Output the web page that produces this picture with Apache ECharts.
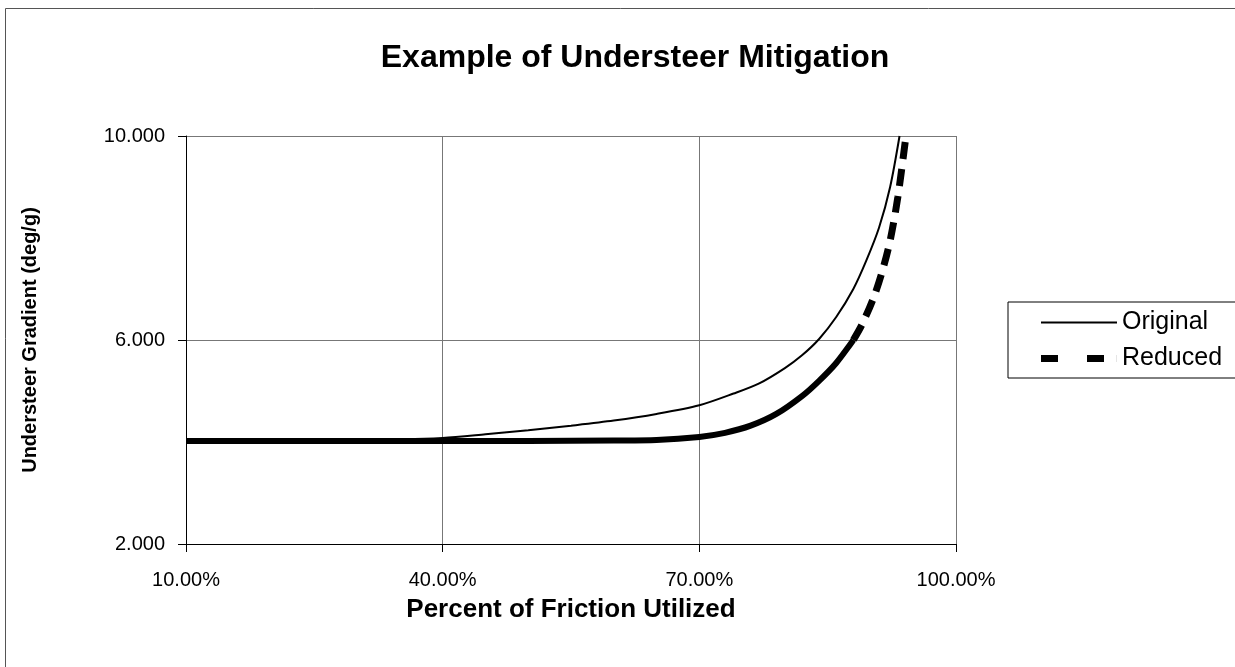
<!DOCTYPE html>
<html>
<head>
<meta charset="utf-8">
<script src="https://cdn.jsdelivr.net/npm/echarts@6/dist/echarts.min.js"></script>
<style>
html, body { margin: 0; padding: 0; background: #fff; }
#chart { width: 1235px; height: 667px; }
</style>
</head>
<body>
<div id="chart"></div>
<script>
// values
var origX = [10, 20, 30, 40, 45, 50, 55, 60, 65, 70, 74, 77, 80, 82, 84, 86, 88, 89.5, 91, 92.3, 93.4];
var origY = [4.02, 4.02, 4.03, 4.08, 4.15, 4.23, 4.32, 4.42, 4.55, 4.72, 4.95, 5.15, 5.45, 5.7, 6.02, 6.45, 7.0, 7.55, 8.2, 9.0, 10.0];

// reduced: solid low part, dashed steep part
var redLowX = [10, 20, 30, 40, 50, 60, 65, 70, 73, 76, 79, 82, 84, 86, 88];
var redLowY = [4.02, 4.02, 4.02, 4.02, 4.02, 4.03, 4.04, 4.1, 4.18, 4.32, 4.55, 4.9, 5.2, 5.55, 6.0];
var redHighX = [88, 89, 90.3, 91.3, 92.3, 93.2, 94.15];
var redHighY = [6.0, 6.3, 6.8, 7.3, 7.95, 8.8, 10.0];

function pairs(xs, ys) {
    return xs.map(function (x, i) { return [x, ys[i]]; });
}

var chart = echarts.init(document.getElementById("chart"));
var font = "Liberation Sans, Arial, sans-serif";

var option = {
    backgroundColor: "#fff",
    animation: false,
    title: {
        text: "Example of Understeer Mitigation",
        left: 630,
        top: 37,
        textAlign: "center",
        textStyle: { fontFamily: font, fontSize: 32, fontWeight: "bold", color: "#000" }
    },
    graphic: [{
        type: "rect",
        shape: { x: 5.5, y: 8.5, width: 1240, height: 670 },
        style: { fill: "none", stroke: "#555", lineWidth: 1 }
    }],
    legend: {
        orient: "vertical",
        left: 1008,
        top: 302,
        padding: [8, 40, 7, 33],
        itemGap: 11,
        itemWidth: 76,
        itemHeight: 14,
        borderColor: "#000",
        borderWidth: 1,
        textStyle: { fontFamily: font, fontSize: 25, color: "#000" },
        data: [
            { name: "Original", icon: "path://M0,0H76V2H0Z", itemStyle: { color: "#000" } },
            { name: "Reduced", icon: "path://M0,0H17V7H0Z M46,0H63V7H46Z M75.9,0H76V7H75.9Z", itemStyle: { color: "#000" } }
        ]
    },
    grid: { left: 186, right: 279, top: 136, bottom: 123 },
    xAxis: {
        type: "value",
        min: 10,
        max: 100,
        interval: 30,
        name: "Percent of Friction Utilized",
        nameLocation: "middle",
        nameGap: 53,
        nameTextStyle: { fontFamily: font, fontSize: 26, fontWeight: "bold", color: "#000" },
        axisLine: { lineStyle: { color: "#000", width: 1 } },
        axisTick: { show: true, length: 8, lineStyle: { color: "#000" } },
        axisLabel: {
            margin: 26,
            fontFamily: font, fontSize: 20, color: "#000",
            formatter: function (v) { return v.toFixed(2) + "%"; }
        },
        splitLine: { show: true, lineStyle: { color: "#777", width: 1 } }
    },
    yAxis: {
        type: "value",
        min: 2,
        max: 10,
        interval: 4,
        name: "Understeer Gradient (deg/g)",
        nameLocation: "middle",
        nameGap: 146,
        nameTextStyle: { fontFamily: font, fontSize: 20, fontWeight: "bold", color: "#000" },
        axisLine: { show: true, lineStyle: { color: "#000", width: 1 } },
        axisTick: { show: true, length: 8, lineStyle: { color: "#000" } },
        axisLabel: {
            margin: 21,
            fontFamily: font, fontSize: 20, color: "#000",
            formatter: function (v) { return v.toFixed(3); }
        },
        splitLine: { show: true, lineStyle: { color: "#777", width: 1 } }
    },
    series: [
        {
            name: "Original",
            type: "line",
            smooth: 0.3,
            showSymbol: false,
            color: "#000",
            lineStyle: { color: "#000", width: 2 },
            data: pairs(origX, origY)
        },
        {
            name: "Reduced",
            type: "line",
            smooth: 0.3,
            showSymbol: false,
            color: "#000",
            lineStyle: { color: "#000", width: 7, type: [17, 10] },
            data: pairs(redHighX, redHighY)
        },
        {
            name: "Reduced low",
            type: "line",
            smooth: 0.3,
            showSymbol: false,
            color: "#000",
            lineStyle: { color: "#000", width: 6 },
            data: pairs(redLowX, redLowY)
        }
    ]
};
chart.setOption(option);
</script>
</body>
</html>
